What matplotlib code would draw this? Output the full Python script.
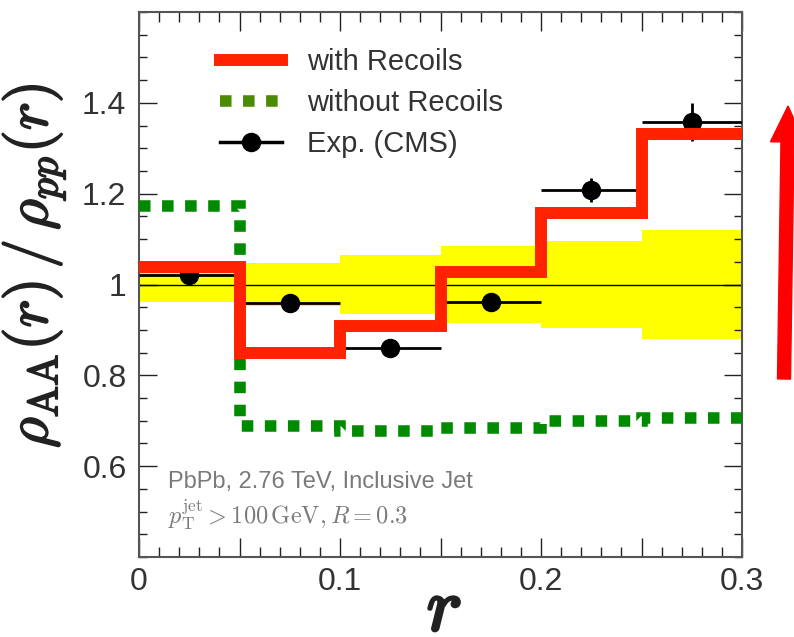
import matplotlib.pyplot as plt
from matplotlib.lines import Line2D
from matplotlib.patches import FancyArrow
from matplotlib.ticker import FixedLocator, FixedFormatter, MultipleLocator
import matplotlib.patheffects as pe

plt.rcParams['font.family'] = ['Liberation Sans', 'DejaVu Sans']
plt.rcParams['mathtext.fontset'] = 'cm'

# bins in r (jet radius)
edges = [0.0, 0.05, 0.10, 0.15, 0.20, 0.25, 0.30]
centers = [0.025, 0.075, 0.125, 0.175, 0.225, 0.275]

# model curves
with_recoils = [1.039, 0.849, 0.908, 1.027, 1.158, 1.332]
without_recoils = [1.173, 0.688, 0.677, 0.685, 0.699, 0.705]

# CMS data and its systematic band
cms = [1.022, 0.960, 0.861, 0.962, 1.208, 1.357]
cms_err = [0.012, 0.012, 0.012, 0.012, 0.027, 0.042]
syst_low = [0.962, 0.953, 0.935, 0.916, 0.905, 0.880]
syst_high = [1.040, 1.047, 1.066, 1.084, 1.095, 1.120]

y_ticks = [0.6, 0.8, 1.0, 1.2, 1.4]
y_labels = ['0.6', '0.8', '1', '1.2', '1.4']
x_ticks = [0.0, 0.05, 0.10, 0.15, 0.20, 0.25, 0.30]
x_labels = ['0', '', '0.1', '', '0.2', '', '0.3']

fig = plt.figure(figsize=(7.94, 6.37), dpi=100)
ax = fig.add_axes([139/794, 80/637, 603/794, 545/637])

# systematic band
widths = [edges[i+1] - edges[i] for i in range(len(centers))]
heights = [syst_high[i] - syst_low[i] for i in range(len(centers))]
ax.bar(centers, heights, width=widths, bottom=syst_low, color='#ffff00', lw=0, zorder=1)
ax.axhline(1.0, color='black', lw=1.0, zorder=2)

ax.errorbar(centers, cms, xerr=0.025, yerr=cms_err, fmt='o', color='black',
            ms=13, elinewidth=2, capsize=0, zorder=3)

ax.stairs(without_recoils, edges, baseline=None, color='#008a00', lw=8.3,
          linestyle=(0, (1, 1)), zorder=4)
ax.stairs(with_recoils, edges, baseline=None, color='#ff2200', lw=8.6,
          joinstyle='miter', zorder=5)

ax.set_xlim(0, 0.3)
ax.set_ylim(0.4, 1.6)

ax.xaxis.set_major_locator(FixedLocator(x_ticks))
ax.xaxis.set_major_formatter(FixedFormatter(x_labels))
ax.xaxis.set_minor_locator(MultipleLocator(0.01))
ax.yaxis.set_major_locator(FixedLocator(y_ticks))
ax.yaxis.set_major_formatter(FixedFormatter(y_labels))
ax.yaxis.set_minor_locator(MultipleLocator(0.05))

ax.tick_params(which='both', direction='in', top=True, right=True,
               labelsize=23, labelcolor='#333333', width=1.0, color='#222222')
ax.tick_params(axis='x', which='major', length=14, pad=7)
ax.tick_params(axis='x', which='minor', length=7)
ax.tick_params(axis='y', which='major', length=13, pad=9)
ax.tick_params(axis='y', which='minor', length=6)
for s in ax.spines.values():
    s.set_linewidth(1.5)
    s.set_color('#555555')

ax.set_ylabel(r'$\rho_{\rm AA}(r)\,/\,\rho_{pp}(r)$', fontsize=43, color='#222222',
              path_effects=[pe.withStroke(linewidth=1.2, foreground='#222222')])
ax.yaxis.set_label_coords(-0.119, 0.534)
ax.set_xlabel(r'$r$', fontsize=54, color='#222222',
              path_effects=[pe.withStroke(linewidth=2.2, foreground='#222222')])
ax.xaxis.set_label_coords(0.506, -0.036)

# legend
handles = [Line2D([], [], color='#ff2200', lw=8.6),
           Line2D([], [], color='#4b8b00', lw=8.3, linestyle=(0, (1, 1))),
           Line2D([], [], color='black', lw=2.5, marker='o', ms=13)]
names = ['with Recoils', 'without Recoils', 'Exp. (CMS)']
leg = ax.legend(handles, names, loc='upper left', bbox_to_anchor=(0.134, 0.934),
                frameon=False, fontsize=21, handlelength=2.12, handletextpad=0.86,
                labelspacing=0.45, borderpad=0, borderaxespad=0)
for t in leg.get_texts():
    t.set_color('#333333')

ax.text(0.048, 0.1266, 'PbPb, 2.76 TeV, Inclusive Jet', transform=ax.transAxes,
        fontsize=17, color='#7a7a7a', va='baseline')
ax.text(0.048, 0.0606, r'$p_{\rm T}^{\rm jet} > 100\,{\rm GeV}, R = 0.3$',
        transform=ax.transAxes, fontsize=17.5, color='#7a7a7a', va='baseline')

# red arrow to the right of the frame
arrow = FancyArrow(7.84, 2.58, 0.04, 2.73, width=0.13, head_width=0.34,
                   head_length=0.36, length_includes_head=True, color='#ff0000',
                   transform=fig.dpi_scale_trans, clip_on=False)
fig.add_artist(arrow)

fig.savefig('out.png', dpi=100)
